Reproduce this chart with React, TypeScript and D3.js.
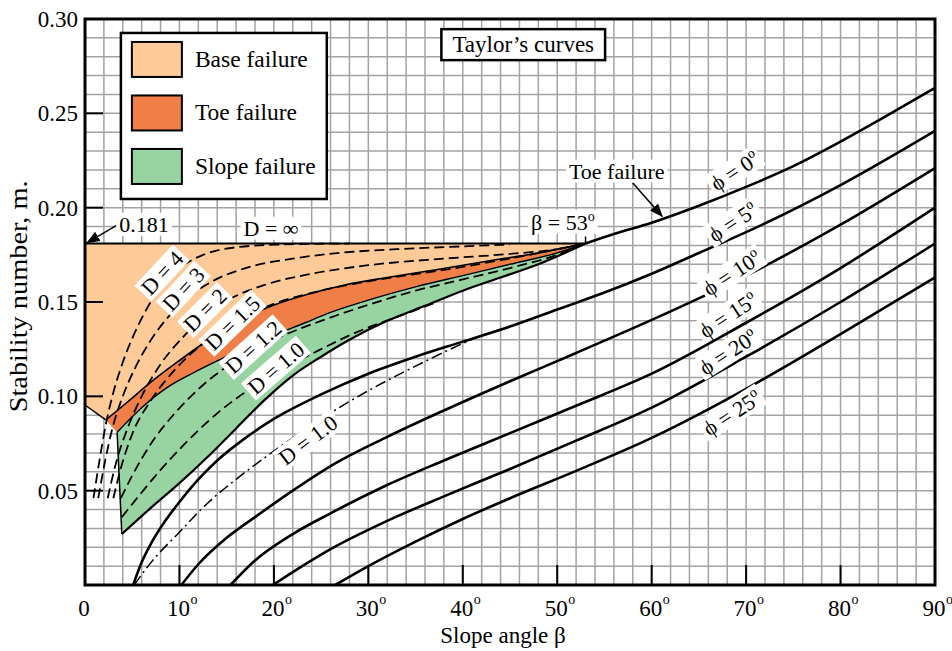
import { useLayoutEffect, useRef, useState, type ReactNode } from "react";
import { curveMonotoneX, line, range, scaleLinear } from "d3";

type Pt = [number, number]; // [slope angle beta (deg), stability number m]

const xTicks = [0, 10, 20, 30, 40, 50, 60, 70, 80, 90];
const yTicks = [0.05, 0.1, 0.15, 0.2, 0.25, 0.3];
const yTickLabels = ["0.05", "0.10", "0.15", "0.20", "0.25", "0.30"];

// failure zones (phi = 0)
const baseTop: Pt[] = [[0, 0.181], [53, 0.181]];
const baseCorner: Pt = [0, 0.0954];
const toeUpper: Pt[] = [
  [2.2, 0.0875], [4.5, 0.097], [7.1, 0.108], [10, 0.119], [12.5, 0.128], [15.5, 0.138], [19.8, 0.148],
  [23.5, 0.154], [27.5, 0.159], [32, 0.163], [37, 0.167], [43, 0.172], [48, 0.176], [53, 0.181],
];
const toeLower: Pt[] = [
  [3.4, 0.081], [6, 0.094], [8.8, 0.105], [11.5, 0.1125], [14.1, 0.119], [18, 0.128], [23.3, 0.139],
  [26, 0.1445], [30, 0.151], [35, 0.158], [40, 0.164], [45, 0.17], [50, 0.176], [53, 0.181],
];
const slopeLower: Pt[] = [
  [3.9, 0.027], [7, 0.041], [10, 0.054], [13, 0.068], [16, 0.083], [19, 0.098], [22, 0.111], [25, 0.121],
  [28, 0.13], [32, 0.14], [36, 0.148], [40, 0.156], [44, 0.163], [48, 0.17], [53, 0.181],
];

// depth factor curves D (dashed)
const d4: Pt[] = [
  [0.9, 0.046], [1.5, 0.065], [2.2, 0.085], [3, 0.102], [4, 0.118], [5.2, 0.133], [6.5, 0.146], [8, 0.158],
  [10, 0.168], [12.5, 0.175], [16, 0.179], [21, 0.1805], [28, 0.181],
];
const d3: Pt[] = [
  [1.4, 0.046], [2.1, 0.065], [2.9, 0.083], [4, 0.1], [5.3, 0.115], [7, 0.13], [8.8, 0.142], [10.8, 0.152],
  [13.5, 0.161], [17, 0.168], [22, 0.173], [28, 0.1765], [33, 0.178], [40, 0.1795], [45, 0.1805],
];
const d2: Pt[] = [
  [2.4, 0.046], [3.3, 0.065], [4.5, 0.083], [6, 0.1], [8, 0.117], [10.5, 0.132], [12.7, 0.143], [15.5, 0.152],
  [19, 0.159], [24, 0.165], [30, 0.1695], [38, 0.173], [45, 0.1755], [50, 0.178], [53, 0.181],
];
const d15: Pt[] = [
  [3, 0.046], [3.8, 0.062], [5, 0.08], [7, 0.098], [9.5, 0.114], [12.5, 0.128], [15.7, 0.139], [20, 0.149],
  [25, 0.156], [30, 0.161], [38, 0.167], [46, 0.174], [53, 0.181],
];
const d12: Pt[] = [
  [3.8, 0.046], [5, 0.058], [7, 0.075], [9.5, 0.091], [12.5, 0.106], [16, 0.119], [20, 0.13], [25, 0.14],
  [30, 0.1485], [35, 0.156], [40, 0.162], [45, 0.168], [50, 0.175], [53, 0.181],
];
const d10: Pt[] = [
  [3.9, 0.036], [5.5, 0.046], [8, 0.061], [11, 0.077], [14, 0.091], [17.5, 0.104], [21, 0.1145], [25, 0.125],
  [29, 0.1345], [33, 0.142], [37, 0.1495],
];
// D = 1.0 (dash-dot) joining phi = 5
const d10Toe: Pt[] = [
  [5.2, 0], [7, 0.012], [10, 0.028], [13, 0.0435], [16, 0.056], [20, 0.071], [25, 0.088], [30, 0.103],
  [35, 0.116], [40, 0.128], [42.6, 0.1335],
];

// friction angle curves
const phi0: Pt[] = [[53, 0.181], [56, 0.186], [60, 0.192], [65, 0.201], [70, 0.211], [75, 0.222], [80, 0.235], [85, 0.249], [90, 0.2635]];
const phi5: Pt[] = [
  [5.1, 0], [6, 0.012], [7, 0.022], [8.5, 0.034], [10, 0.044], [12, 0.056], [14, 0.066], [17, 0.078], [20, 0.088],
  [25, 0.101], [30, 0.112], [35, 0.121], [40, 0.129], [45, 0.137], [50, 0.146], [55, 0.155], [60, 0.165],
  [65, 0.176], [70, 0.187], [80, 0.212], [90, 0.2407],
];
const phi10: Pt[] = [
  [10.2, 0], [12, 0.011], [15, 0.025], [18, 0.036], [22, 0.05], [26, 0.063], [32, 0.0785], [38, 0.0925],
  [45, 0.108], [52, 0.123], [60, 0.1405], [70, 0.164], [80, 0.191], [90, 0.221],
];
const phi15: Pt[] = [
  [15.4, 0], [18, 0.013], [22, 0.027], [26, 0.038], [32, 0.053], [38, 0.066], [45, 0.0805], [52, 0.095],
  [60, 0.112], [70, 0.139], [80, 0.168], [90, 0.2],
];
const phi20: Pt[] = [
  [19.9, 0], [23, 0.01], [26, 0.019], [32, 0.034], [38, 0.047], [45, 0.0615], [52, 0.0765], [60, 0.094],
  [70, 0.121], [80, 0.15], [90, 0.181],
];
const phi25: Pt[] = [
  [26.5, 0], [30, 0.01], [35, 0.023], [40, 0.035], [45, 0.046], [52, 0.0605], [60, 0.078], [70, 0.104],
  [80, 0.133], [90, 0.163],
];

const legendItems = ["Base failure", "Toe failure", "Slope failure"];
const zoneColors = ["#fdca98", "#ef7e47", "#98d3a2"];

const FONT = "'Liberation Serif', 'Times New Roman', serif";

const x = scaleLinear().domain([0, 90]).range([85, 935]);
const y = scaleLinear().domain([0, 0.3]).range([585, 19]);

const curve = line<Pt>()
  .x((d) => x(d[0]))
  .y((d) => y(d[1]))
  .curve(curveMonotoneX);
const path = (pts: Pt[]) => curve(pts) ?? "";
const back = (pts: Pt[]) => path([...pts].reverse()).replace(/^M/, "L");

const basePath = path(baseTop) + back(toeUpper) + `L${x(baseCorner[0])},${y(baseCorner[1])}Z`;
const toePath = path(toeUpper) + back(toeLower) + "Z";
const slopePath = path(toeLower) + back(slopeLower) + "Z";

const Deg = ({ size = 14 }: { size?: number }) => (
  <tspan dy={-size * 0.65} fontSize={size}>
    o
  </tspan>
);

type TagProps = {
  at: Pt;
  angle?: number;
  size?: number;
  anchor?: "start" | "middle" | "end";
  framed?: boolean;
  children: ReactNode;
};

const Tag = ({ at, angle = 0, size = 22, anchor = "middle", framed = false, children }: TagProps) => {
  const ref = useRef<SVGTextElement>(null);
  const [box, setBox] = useState<{ x: number; y: number; w: number; h: number } | null>(null);
  useLayoutEffect(() => {
    const b = ref.current?.getBBox();
    if (b) setBox({ x: b.x, y: b.y, w: b.width, h: b.height });
  }, []);
  const px = framed ? 11 : 3;
  const py = framed ? 3 : -1;
  return (
    <g transform={`translate(${x(at[0])},${y(at[1])}) rotate(${angle})`}>
      {box && (
        <rect
          x={box.x - px}
          y={box.y - py}
          width={box.w + 2 * px}
          height={box.h + 2 * py}
          fill="#fff"
          stroke={framed ? "#000" : "none"}
          strokeWidth={2.5}
        />
      )}
      <text ref={ref} fontSize={size} textAnchor={anchor} dy="0.35em">
        {children}
      </text>
    </g>
  );
};

const App = () => {
  const gridX = range(0, 90.001, 2);
  const gridY = range(0, 0.3001, 0.01);
  const dashed = [d4, d3, d2, d15, d12, d10];
  const phis = [phi0, phi5, phi10, phi15, phi20, phi25];
  const lx = x(3.8);
  const ly = y(0.2926);

  return (
    <svg
      width={952}
      height={651}
      style={{ position: "absolute", left: 0, top: 0, background: "#fff", fontFamily: FONT }}
    >
      <defs>
        <marker id="head" viewBox="0 0 10 10" refX={9} refY={5} markerWidth={9} markerHeight={9} orient="auto">
          <path d="M0,1 L10,5 L0,9 Z" fill="#000" />
        </marker>
      </defs>

      {/* grid */}
      <g stroke="#a3a3a3" strokeWidth={1.5}>
        {gridX.map((g) => (
          <line key={`gx${g}`} x1={x(g)} x2={x(g)} y1={y(0)} y2={y(0.3)} />
        ))}
        {gridY.map((g) => (
          <line key={`gy${g}`} x1={x(0)} x2={x(90)} y1={y(g)} y2={y(g)} />
        ))}
      </g>

      {/* failure zones */}
      <path d={basePath} fill={zoneColors[0]} />
      <path d={toePath} fill={zoneColors[1]} />
      <path d={slopePath} fill={zoneColors[2]} />

      {/* major ticks */}
      <g stroke="#000" strokeWidth={2}>
        {xTicks.slice(1, -1).map((t) => (
          <line key={`tx${t}`} x1={x(t)} x2={x(t)} y1={y(0)} y2={y(0) - 20} />
        ))}
        {yTicks.slice(0, -1).map((t) => (
          <line key={`ty${t}`} x1={x(0)} x2={x(0) + 18} y1={y(t)} y2={y(t)} />
        ))}
      </g>

      {/* zone outlines */}
      <g fill="none" stroke="#000">
        <path d={path(baseTop)} strokeWidth={2} />
        <line x1={x(baseCorner[0])} y1={y(baseCorner[1])} x2={x(toeUpper[0][0])} y2={y(toeUpper[0][1])} strokeWidth={1.5} />
        <path d={path(toeUpper)} strokeWidth={1.6} />
        <path d={path(toeLower)} strokeWidth={1.4} />
        <line x1={x(toeLower[0][0])} y1={y(toeLower[0][1])} x2={x(slopeLower[0][0])} y2={y(slopeLower[0][1])} strokeWidth={1.5} />
        <path d={path(slopeLower)} strokeWidth={2.2} />
        <line x1={x(53)} x2={x(53)} y1={y(0.181)} y2={y(0.181) - 7} strokeWidth={1.5} />
      </g>

      {/* D curves */}
      <g fill="none" stroke="#000" strokeWidth={1.8} strokeDasharray="10,5">
        {dashed.map((c, i) => (
          <path key={`d${i}`} d={path(c)} />
        ))}
      </g>
      <path d={path(d10Toe)} fill="none" stroke="#000" strokeWidth={1.5} strokeDasharray="11,4,2,4" />

      {/* phi curves */}
      <g fill="none" stroke="#000" strokeWidth={2.6}>
        {phis.map((c, i) => (
          <path key={`p${i}`} d={path(c)} />
        ))}
      </g>

      {/* curve labels */}
      <Tag at={[8.15, 0.1654]} angle={-47}>D = 4</Tag>
      <Tag at={[10.4, 0.1569]} angle={-47}>D = 3</Tag>
      <Tag at={[12.7, 0.1458]} angle={-45}>D = 2</Tag>
      <Tag at={[15.6, 0.1389]} angle={-44}>D = 1.5</Tag>
      <Tag at={[17.8, 0.1262]} angle={-42}>D = 1.2</Tag>
      <Tag at={[20.2, 0.115]} angle={-41}>D = 1.0</Tag>
      <Tag at={[23.6, 0.0769]} angle={-37}>D = 1.0</Tag>

      <Tag at={[68.8, 0.2195]} angle={-33}>ϕ = 0<Deg /></Tag>
      <Tag at={[68.6, 0.1924]} angle={-33}>ϕ = 5<Deg /></Tag>
      <Tag at={[68.5, 0.1654]} angle={-33}>ϕ = 10<Deg /></Tag>
      <Tag at={[68.1, 0.1431]} angle={-33}>ϕ = 15<Deg /></Tag>
      <Tag at={[68.1, 0.1235]} angle={-33}>ϕ = 20<Deg /></Tag>
      <Tag at={[68.5, 0.0912]} angle={-33}>ϕ = 25<Deg /></Tag>

      <Tag at={[19.7, 0.1892]}>D = ∞</Tag>
      <Tag at={[6.25, 0.1913]}>0.181</Tag>
      <Tag at={[50.6, 0.1924]}>β = 53<Deg /></Tag>
      <Tag at={[56.3, 0.2195]}>Toe failure</Tag>

      {/* arrows */}
      <line x1={x(3.3)} y1={y(0.1905)} x2={x(0.25)} y2={y(0.1815)} stroke="#000" strokeWidth={1.5} markerEnd="url(#head)" />
      <line x1={x(58)} y1={y(0.2131)} x2={x(61.1)} y2={y(0.1955)} stroke="#000" strokeWidth={1.5} markerEnd="url(#head)" />

      {/* title box */}
      <Tag at={[46.4, 0.2867]} size={23} framed>
        Taylor’s curves
      </Tag>

      {/* legend */}
      <g transform={`translate(${lx},${ly})`}>
        <rect width={x(25.6) - lx} height={y(0.2046) - ly} fill="#fff" stroke="#000" strokeWidth={2.5} />
        {legendItems.map((name, i) => (
          <g key={name} transform={`translate(11,${9 + i * 53.5})`}>
            <rect width={50} height={35} fill={zoneColors[i]} stroke="#000" strokeWidth={2} />
            <text x={63} y={25} fontSize={23.5}>
              {name}
            </text>
          </g>
        ))}
      </g>

      {/* frame */}
      <rect x={x(0)} y={y(0.3)} width={x(90) - x(0)} height={y(0) - y(0.3)} fill="none" stroke="#000" strokeWidth={3} />

      {/* axes labels */}
      {yTicks.map((t, i) => (
        <text key={`yl${t}`} x={x(0) - 7} y={y(t) + 8} fontSize={23} textAnchor="end">
          {yTickLabels[i]}
        </text>
      ))}
      {xTicks.map((t) => (
        <g key={`xl${t}`}>
          <text x={x(t) - 1} y={616} fontSize={23} textAnchor="middle">
            {t}
          </text>
          {t > 0 && (
            <text x={x(t) + 11} y={604} fontSize={14}>
              o
            </text>
          )}
        </g>
      ))}
      <text x={(x(0) + x(90)) / 2} y={643} fontSize={23} textAnchor="middle" dx={-7}>
        Slope angle β
      </text>
      <text
        transform={`translate(27,${y(0.153)}) rotate(-90)`}
        fontSize={25}
        textAnchor="middle"
        textLength={232}
        lengthAdjust="spacingAndGlyphs"
      >
        Stability number, m.
      </text>
    </svg>
  );
};

export default App;
